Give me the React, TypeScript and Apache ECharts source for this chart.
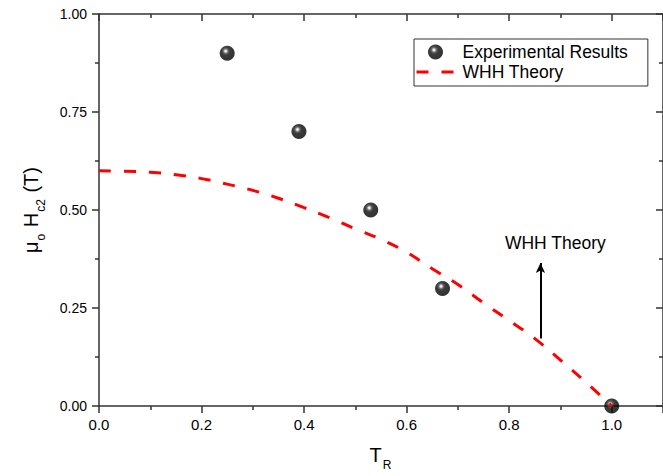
import React, { useEffect, useRef } from "react";
import * as echarts from "echarts";

const FONT = "'Liberation Sans', Arial, sans-serif";

// Experimental data (reduced temperature vs upper critical field)
const expT = [0.25, 0.39, 0.53, 0.67, 1.0];
const expH = [0.9, 0.7, 0.5, 0.3, 0.0];

// WHH theory curve
const whhT = [0, 0.05, 0.1, 0.15, 0.2, 0.25, 0.3, 0.35, 0.4, 0.45, 0.5, 0.55, 0.6, 0.65, 0.7, 0.75, 0.8, 0.85, 0.9, 0.95, 1.0];
const whhH = [0.6, 0.599, 0.596, 0.59, 0.58, 0.566, 0.55, 0.53, 0.506, 0.48, 0.452, 0.425, 0.392, 0.35, 0.31, 0.263, 0.218, 0.172, 0.117, 0.06, 0.0];

// Arrow annotation
const arrowT = 0.861;
const arrowFrom = 0.172;
const arrowTo = 0.365;
const noteT = 0.89;
const noteH = 0.4155;
const noteText = "WHH Theory";

const seriesNames = ["Experimental Results", "WHH Theory"];

export default function App() {
  const ref = useRef<HTMLDivElement>(null);

  useEffect(() => {
    if (!ref.current) return;
    const chart = echarts.init(ref.current, undefined, { renderer: "svg" });

    const sphere = new echarts.graphic.RadialGradient(0.4, 0.36, 0.62, [
      { offset: 0, color: "#ffffff" },
      { offset: 0.1, color: "#d8d8d8" },
      { offset: 0.26, color: "#444444" },
      { offset: 0.45, color: "#0a0a0a" },
      { offset: 1, color: "#000000" },
    ]);

    const axisLineStyle = { color: "#333", width: 1.5 };
    const dash = [12, 13];

    const rich = {
      a: { fontSize: 20, fontFamily: FONT, color: "#000", lineHeight: 24 },
      b: { fontSize: 12, fontFamily: FONT, color: "#000", padding: [20, 1, 0, 1] },
    };

    const option: any = {
      animation: false,
      backgroundColor: "#ffffff",
      grid: { left: 99, top: 14, width: 565, height: 394 },
      legend: {
        orient: "vertical",
        left: 414,
        top: 39,
        padding: [3, 20, 4, 1],
        itemGap: 0,
        itemWidth: 38,
        itemHeight: 15,
        borderColor: "#333",
        borderWidth: 1,
        backgroundColor: "#fff",
        textStyle: { fontSize: 17.5, fontFamily: FONT, color: "#000", lineHeight: 20, padding: [0, 0, 0, 3] },
        data: [
          seriesNames[0],
          {
            name: seriesNames[1],
            itemStyle: { opacity: 0 },
            lineStyle: { type: dash, width: 3, color: "#ff0000" },
          },
        ],
      },
      xAxis: [
        {
          type: "value",
          min: 0,
          max: 1.1,
          interval: 0.2,
          position: "bottom",
          name: "{a|T}{b|R}",
          nameLocation: "middle",
          nameGap: 33,
          nameTextStyle: { rich },
          axisLine: { show: true, onZero: false, lineStyle: axisLineStyle },
          axisTick: { show: true, inside: false, length: 7, lineStyle: axisLineStyle },
          minorTick: { show: true, splitNumber: 2, length: 4, lineStyle: axisLineStyle },
          splitLine: { show: false },
          axisLabel: {
            margin: 11,
            fontSize: 15,
            fontFamily: FONT,
            color: "#000",
            showMaxLabel: false,
            formatter: (v: number) => v.toFixed(1),
          },
        },
        {
          type: "value",
          min: 0,
          max: 1.1,
          interval: 0.2,
          position: "top",
          axisLine: { show: true, onZero: false, lineStyle: axisLineStyle },
          axisTick: { show: true, inside: true, length: 7, lineStyle: axisLineStyle },
          minorTick: { show: true, splitNumber: 2, length: 4, lineStyle: axisLineStyle },
          splitLine: { show: false },
          axisLabel: { show: false },
        },
      ],
      yAxis: [
        {
          type: "value",
          min: 0,
          max: 1,
          interval: 0.25,
          position: "left",
          name: "{a|μ}{b|o}{a| H}{b|c2}{a| (T)}",
          nameLocation: "middle",
          nameGap: 52,
          nameTextStyle: { rich },
          axisLine: { show: true, onZero: false, lineStyle: axisLineStyle },
          axisTick: { show: true, inside: false, length: 7, lineStyle: axisLineStyle },
          minorTick: { show: true, splitNumber: 2, length: 4, lineStyle: axisLineStyle },
          splitLine: { show: false },
          axisLabel: {
            margin: 12,
            fontSize: 14,
            fontFamily: FONT,
            color: "#000",
            formatter: (v: number) => v.toFixed(2),
          },
        },
        {
          type: "value",
          min: 0,
          max: 1,
          interval: 0.25,
          position: "right",
          axisLine: { show: true, onZero: false, lineStyle: axisLineStyle },
          axisTick: { show: true, inside: true, length: 7, lineStyle: axisLineStyle },
          minorTick: { show: true, splitNumber: 2, length: 4, lineStyle: axisLineStyle },
          splitLine: { show: false },
          axisLabel: { show: false },
        },
      ],
      series: [
        {
          name: seriesNames[0],
          type: "scatter",
          symbol: "circle",
          symbolSize: 15,
          clip: true,
          itemStyle: { color: sphere },
          data: expT.map((t, i) => [t, expH[i]]),
          z: 2,
        },
        {
          name: seriesNames[1],
          type: "line",
          symbol: "none",
          smooth: true,
          clip: true,
          lineStyle: { color: "#ff0000", width: 3, type: dash },
          itemStyle: { color: "#ff0000" },
          data: whhT.map((t, i) => [t, whhH[i]]),
          z: 3,
          markLine: {
            silent: true,
            symbol: ["none", "arrow"],
            symbolSize: [7, 10],
            label: { show: false },
            lineStyle: { color: "#000", type: "solid", width: 2 },
            data: [[{ coord: [arrowT, arrowFrom] }, { coord: [arrowT, arrowTo] }]],
          },
          markPoint: {
            silent: true,
            symbol: "circle",
            symbolSize: 0,
            label: {
              show: true,
              position: "inside",
              formatter: noteText,
              fontSize: 17.5,
              fontFamily: FONT,
              color: "#000",
            },
            data: [{ coord: [noteT, noteH] }],
          },
        },
      ],
    };

    chart.setOption(option);
    return () => chart.dispose();
  }, []);

  return (
    <div
      ref={ref}
      style={{ position: "fixed", left: 0, top: 0, width: 663, height: 476, background: "#fff" }}
    />
  );
}
